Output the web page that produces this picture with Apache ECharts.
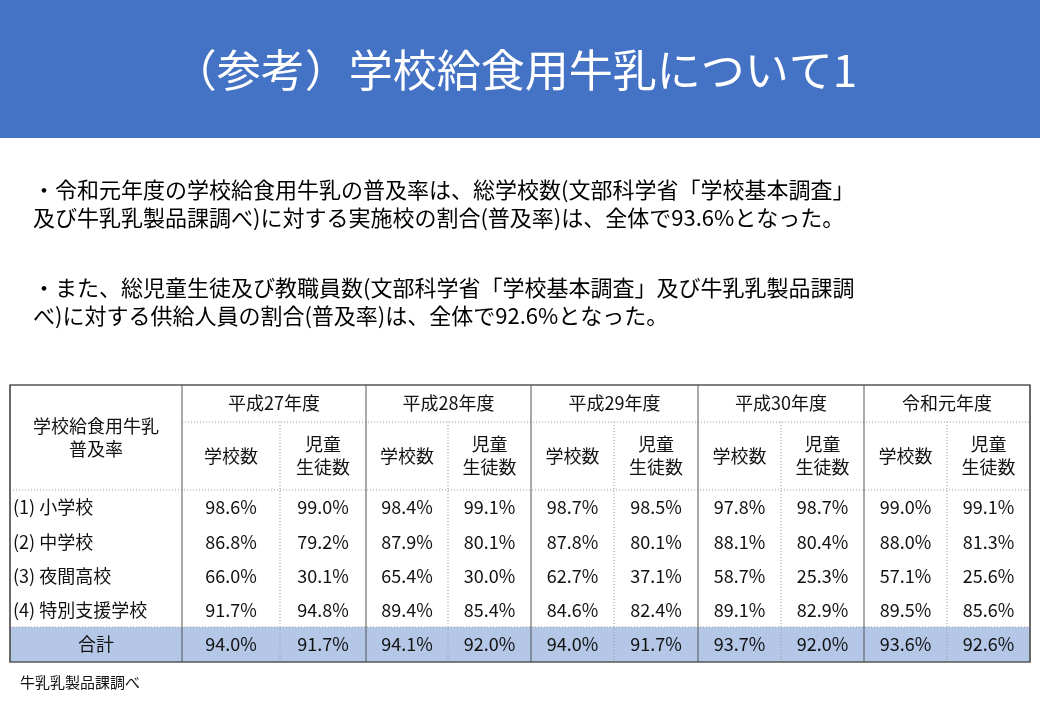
<!DOCTYPE html><html><head><meta charset="utf-8"><script src="https://cdn.jsdelivr.net/npm/echarts@6/dist/echarts.min.js"></script>
<style>html,body{margin:0;padding:0;background:#fff}#c{width:1040px;height:720px}</style></head><body><div id="c"></div><script>
const title = '（参考）学校給食用牛乳について1';
const bullets = ['・令和元年度の学校給食用牛乳の普及率は、総学校数(文部科学省「学校基本調査」','及び牛乳乳製品課調べ)に対する実施校の割合(普及率)は、全体で93.6%となった。','・また、総児童生徒及び教職員数(文部科学省「学校基本調査」及び牛乳乳製品課調','べ)に対する供給人員の割合(普及率)は、全体で92.6%となった。'];
const years = ['平成27年度','平成28年度','平成29年度','平成30年度','令和元年度'];
const subHeads = ['学校数','児童\n生徒数'];
const rowLabels = ['(1) 小学校','(2) 中学校','(3) 夜間高校','(4) 特別支援学校'];
const totalLabel = '合計';
const rows = [
 ['98.6%','99.0%','98.4%','99.1%','98.7%','98.5%','97.8%','98.7%','99.0%','99.1%'],
 ['86.8%','79.2%','87.9%','80.1%','87.8%','80.1%','88.1%','80.4%','88.0%','81.3%'],
 ['66.0%','30.1%','65.4%','30.0%','62.7%','37.1%','58.7%','25.3%','57.1%','25.6%'],
 ['91.7%','94.8%','89.4%','85.4%','84.6%','82.4%','89.1%','82.9%','89.5%','85.6%']];
const totals = ['94.0%','91.7%','94.1%','92.0%','94.0%','91.7%','93.7%','92.0%','93.6%','92.6%'];
const source = '牛乳乳製品課調べ';

const F = '"Noto Sans CJK JP", sans-serif';
const colX = [10,182,280,366,448,531,614,698,781,864,947,1030];
const rowY = [385,422,490,525,559,593,627,662];
const lineY = [190,218,288,316];
const g = [];
g.push({type:'rect',shape:{x:0,y:0,width:1040,height:138},style:{fill:'#4472C4'}});
g.push({type:'text',x:515,y:70,style:{text:title,fill:'#fff',font:'44px '+F,align:'center',verticalAlign:'middle'}});
bullets.forEach((t,i)=>g.push({type:'text',x:33,y:lineY[i],style:{text:t,fill:'#000',font:'22px '+F,verticalAlign:'middle'}}));
g.push({type:'rect',shape:{x:10,y:rowY[6],width:1020,height:rowY[7]-rowY[6]},style:{fill:'#B4C7E7'}});
const line=(x1,y1,x2,y2,dash,c)=>g.push({type:'line',shape:{x1,y1,x2,y2},style:{stroke:c||(dash?'#999':'#555'),lineWidth:1,lineDash:dash?[1,2]:null}});
line(182,rowY[1],1030,rowY[1],true); line(10,rowY[2],1030,rowY[2],true);
line(10,rowY[6],1030,rowY[6],true);
for(let i=0;i<colX.length;i++){const sub=i>=2&&i%2===0;line(colX[i],sub?rowY[1]:rowY[0],colX[i],rowY[7],sub);}
g.push({type:'rect',shape:{x:10,y:rowY[0],width:1020,height:rowY[7]-rowY[0]},style:{fill:'none',stroke:'#555',lineWidth:1.5}});
const txt=(t,x,y,al)=>g.push({type:'text',x,y,style:{text:t,fill:'#111',font:'18px '+F,align:al||'center',verticalAlign:'middle',lineHeight:23}});
txt('学校給食用牛乳\n普及率',96,438);
years.forEach((y,i)=>{txt(y,(colX[1+2*i]+colX[3+2*i])/2,(rowY[0]+rowY[1])/2);
 subHeads.forEach((s,j)=>txt(s,(colX[1+2*i+j]+colX[2+2*i+j])/2,(rowY[1]+rowY[2])/2));});
rowLabels.forEach((l,r)=>{txt(l,13,(rowY[2+r]+rowY[3+r])/2,'left');
 rows[r].forEach((v,c)=>txt(v,(colX[1+c]+colX[2+c])/2,(rowY[2+r]+rowY[3+r])/2));});
txt(totalLabel,96,(rowY[6]+rowY[7])/2);
totals.forEach((v,c)=>txt(v,(colX[1+c]+colX[2+c])/2,(rowY[6]+rowY[7])/2));
g.push({type:'text',x:20,y:682,style:{text:source,fill:'#111',font:'15px '+F,verticalAlign:'middle'}});
const ch=echarts.init(document.getElementById('c'));
ch.setOption({animation:false,graphic:g});
</script></body></html>
